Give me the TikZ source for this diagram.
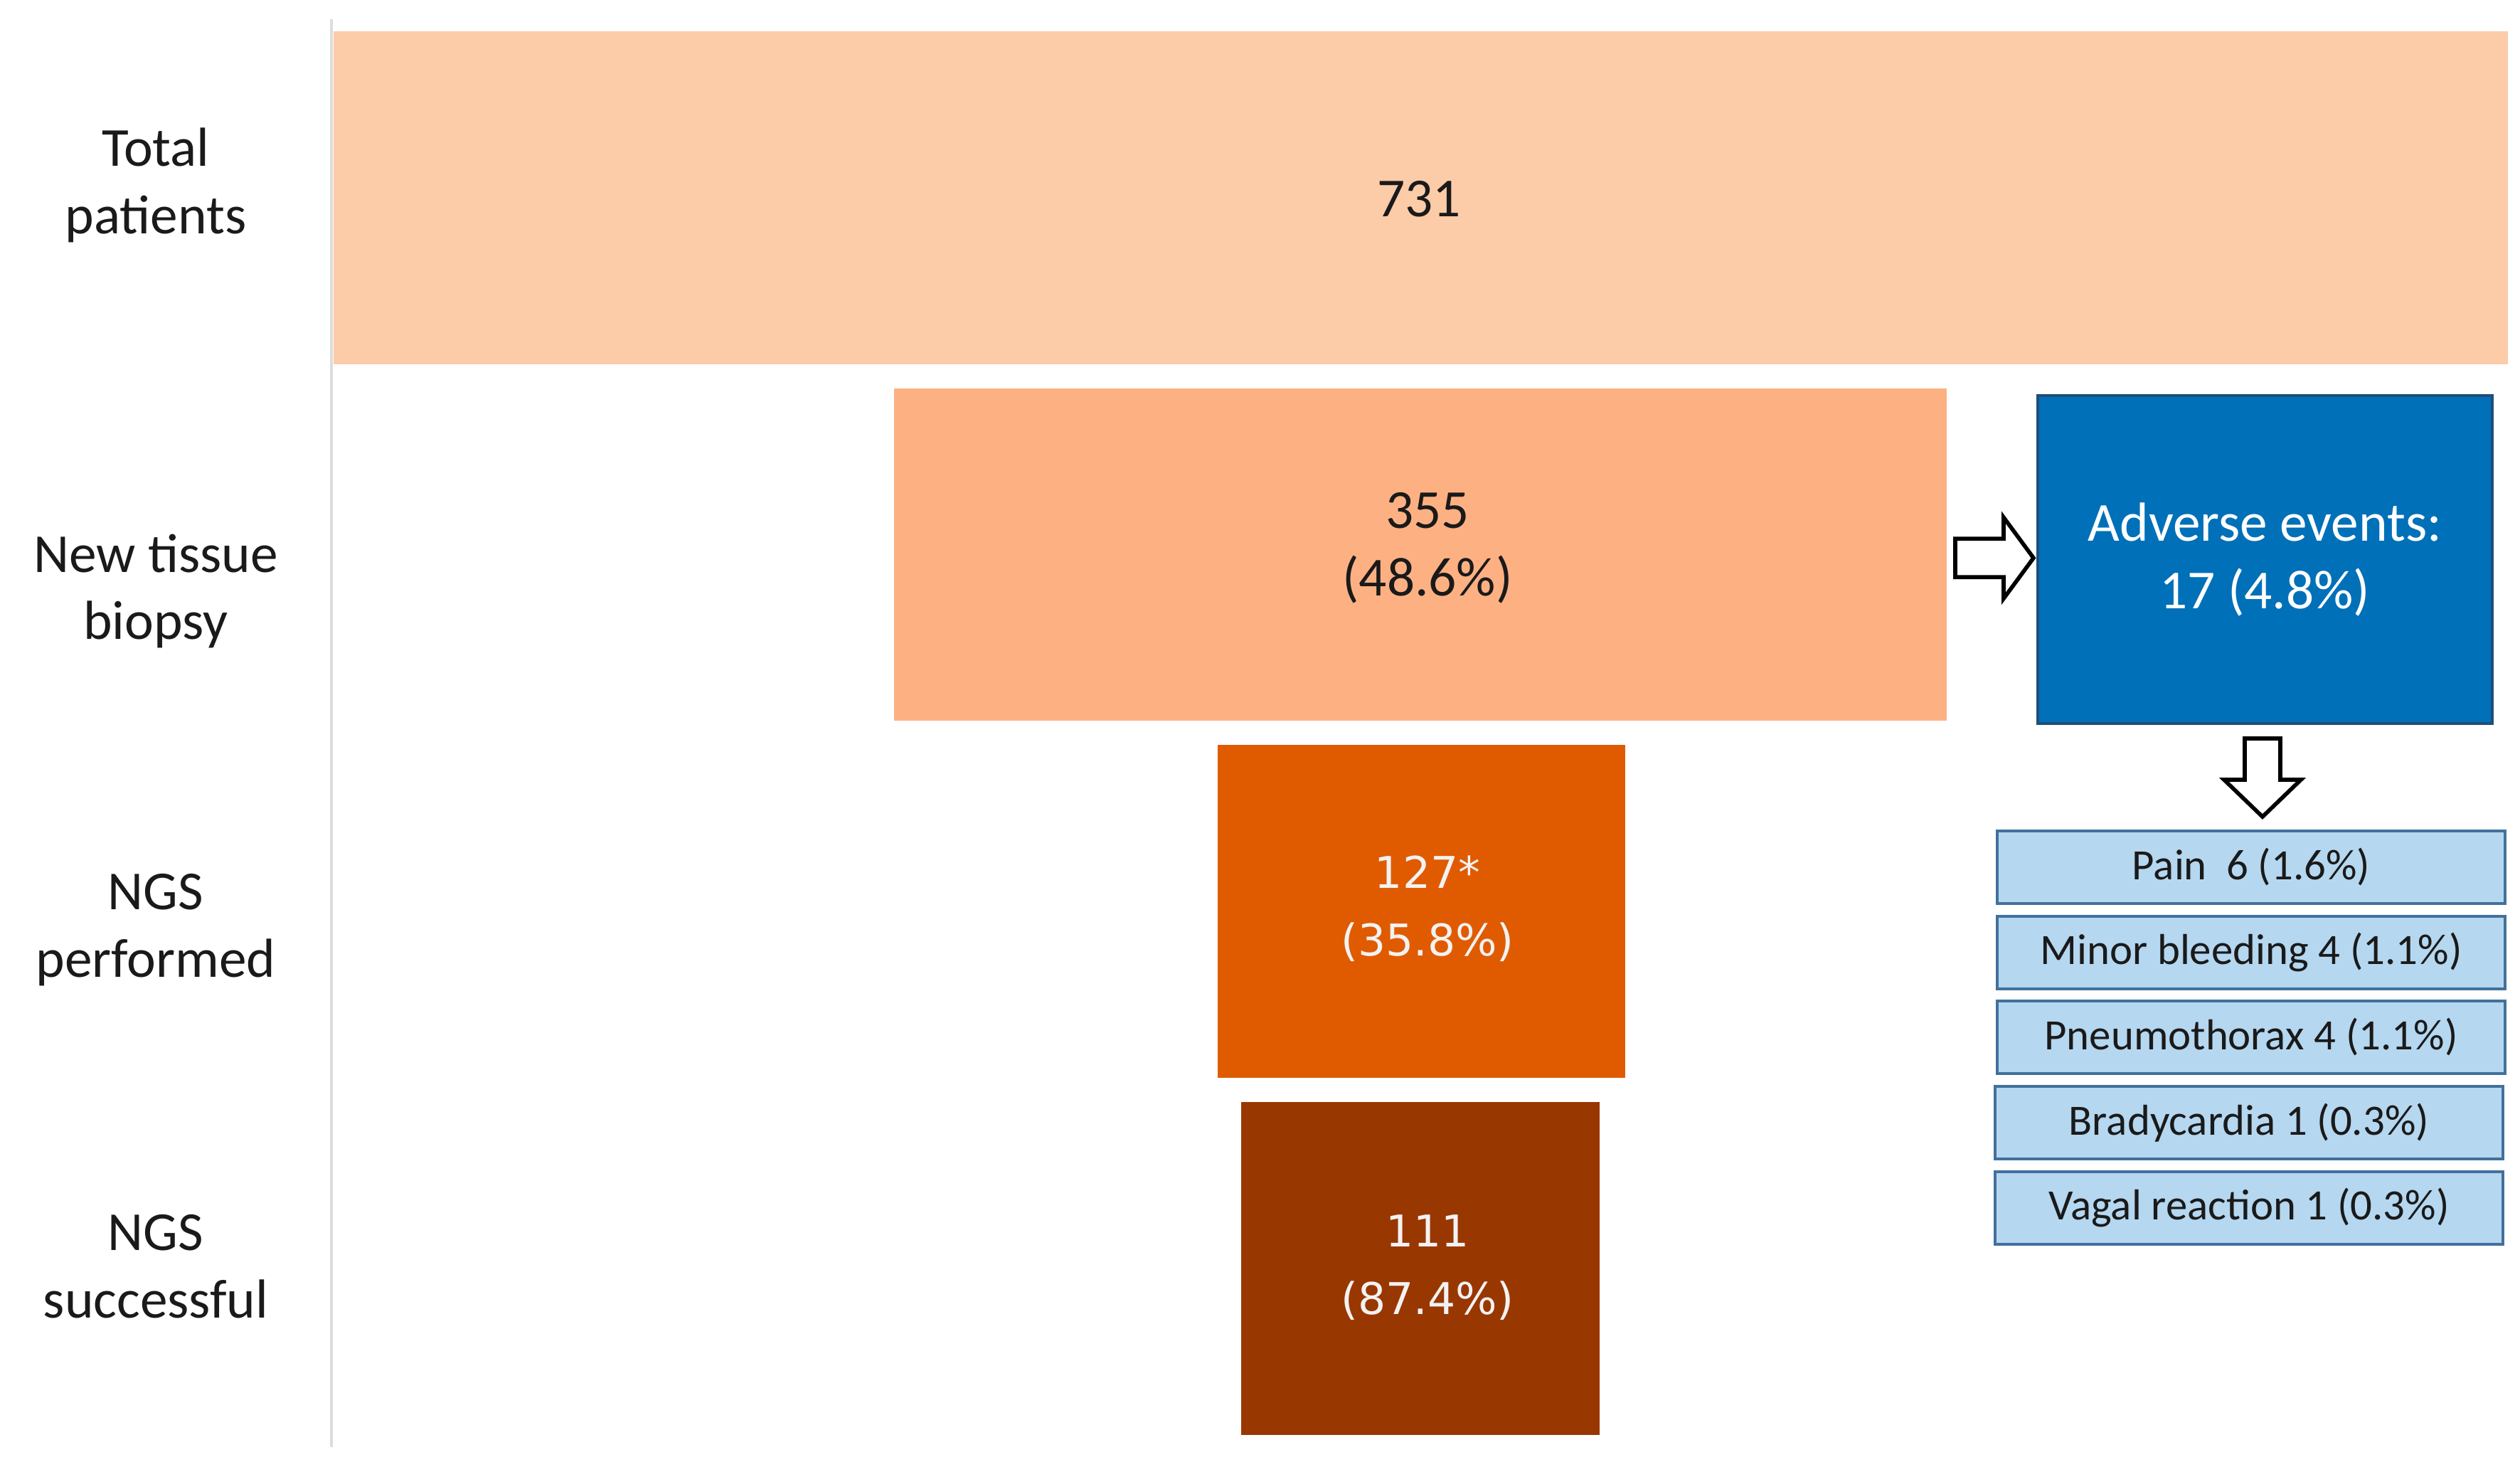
\documentclass[tikz,border=0pt]{standalone}
\usepackage{fontspec}
\setmainfont{Carlito}
\newfontfamily\numfont{DejaVu Sans}
\usetikzlibrary{calc}
\definecolor{barA}{HTML}{FCCBA8}
\definecolor{barB}{HTML}{FDB183}
\definecolor{barC}{HTML}{E05B00}
\definecolor{barD}{HTML}{993700}
\definecolor{aeblue}{HTML}{0070B8}
\definecolor{aeborder}{HTML}{1F4E79}
\definecolor{subfill}{HTML}{B5D7F0}
\definecolor{subborder}{HTML}{41719C}
\definecolor{axisgray}{HTML}{DCDCDC}
\definecolor{txtdark}{HTML}{1A1A1A}
\tikzset{
  barbox/.style={anchor=north west, inner sep=0pt, draw=none},
  bigtxt/.style={font=\fontsize{22}{27}\selectfont, align=center, text=txtdark, inner sep=0pt},
  numtxt/.style={font=\numfont\fontsize{17.5}{27}\selectfont, align=center, text=white!95!black, inner sep=0pt},
  sidelabel/.style={font=\fontsize{22}{27}\selectfont, align=center, text=txtdark, inner sep=0pt},
  subbox/.style={anchor=north west, fill=subfill, draw=subborder, line width=1.1pt,
    minimum width=7.14cm, minimum height=1.02cm, inner sep=0pt,
    font=\fontsize{17.3}{20}\selectfont, text=txtdark},
  blockarrow/.style={draw=black, fill=white, line width=1.6pt, line join=miter}
}
\begin{document}
\begin{tikzpicture}
\useasboundingbox (0,0) rectangle (35.43,-20.54);
% left axis line
\coordinate (axtop) at (4.66,-0.27);
\coordinate (axbot) at (4.66,-20.34);
\draw[axisgray, line width=1.2pt] (axtop) -- (axbot);

% funnel bars
\node[barbox, fill=barA, minimum width=30.57cm, minimum height=4.68cm] (bar1) at (4.68,-0.43) {};
\node[barbox, fill=barB, minimum width=14.80cm, minimum height=4.67cm] (bar2) at (12.56,-5.45) {};
\node[barbox, fill=barC, minimum width=5.73cm, minimum height=4.68cm] (bar3) at (17.11,-10.46) {};
\node[barbox, fill=barD, minimum width=5.04cm, minimum height=4.68cm] (bar4) at (17.44,-15.48) {};

% bar texts
\node[bigtxt] (t1) at (19.95,-2.80) {731};
\node[bigtxt] (t2) at (20.07,-7.70) {355\\(48.6\%)};
\node[numtxt] (t3) at (20.07,-12.77) {127*\\(35.8\%)};
\node[numtxt] (t4) at (20.07,-17.82) {111\\(87.4\%)};

% side labels
\node[sidelabel] (l1) at (2.19,-2.60) {Total\\patients};
\node[sidelabel] (l2) at (2.19,-8.31) {New tissue\\biopsy};
\node[sidelabel] (l3) at (2.19,-13.07) {NGS\\performed};
\node[sidelabel] (l4) at (2.19,-17.80) {NGS\\successful};

% adverse events box
\node[anchor=north west, fill=aeblue, draw=aeborder, line width=1pt,
      minimum width=6.39cm, minimum height=4.61cm, inner sep=0pt,
      font=\fontsize{22}{27}\selectfont, text=white, align=center] (ae) at (28.63,-5.54)
      {Adverse events:\\17 (4.8\%)};

% sub boxes
\node[subbox] (s1) at (28.06,-11.66) {Pain\ \ 6 (1.6\%)};
\node[subbox] (s2) at (28.06,-12.86) {Minor bleeding 4 (1.1\%)};
\node[subbox] (s3) at (28.06,-14.05) {Pneumothorax 4 (1.1\%)};
\node[subbox] (s4) at (28.03,-15.25) {Bradycardia 1 (0.3\%)};
\node[subbox] (s5) at (28.03,-16.45) {Vagal reaction 1 (0.3\%)};

% block arrow: bar2 -> ae
\draw[blockarrow, shift={($(ae.west)+(-0.04,0.02)$)}]
  (-1.10,0.27) -- (-0.42,0.27) -- (-0.42,0.57) -- (0,0) -- (-0.42,-0.57)
  -- (-0.42,-0.27) -- (-1.10,-0.27) -- cycle;

% block arrow: ae -> sub boxes
\draw[blockarrow, shift={($(s1.north)+(0.16,0.18)$)}]
  (-0.25,1.10) -- (0.25,1.10) -- (0.25,0.52) -- (0.54,0.52) -- (0,0)
  -- (-0.54,0.52) -- (-0.25,0.52) -- cycle;
\end{tikzpicture}
\end{document}
